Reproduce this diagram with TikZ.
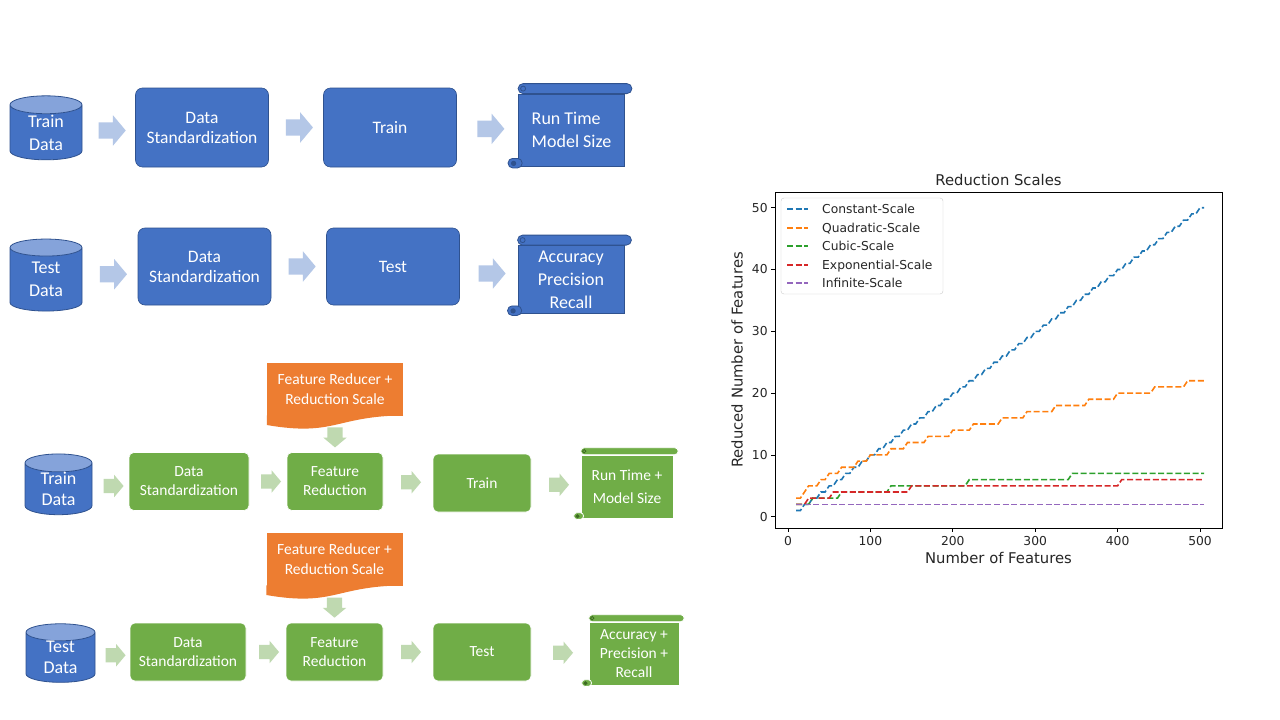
\documentclass[tikz,border=0pt]{standalone}
\usepackage{fontspec}
\setmainfont{Carlito}
\newfontfamily\plotfont{DejaVu Sans}
\usetikzlibrary{shapes.geometric,shapes.arrows}
\definecolor{officeblue}{HTML}{4472C4}
\definecolor{blueline}{HTML}{2F528F}
\definecolor{cyltop}{HTML}{85A3DA}
\definecolor{bluearrow}{HTML}{B4C7E7}
\definecolor{officegreen}{HTML}{70AD47}
\definecolor{greencurl}{HTML}{3D6B22}
\definecolor{greenarrow}{HTML}{BFD9B0}
\definecolor{officeorange}{HTML}{ED7D31}
\definecolor{plottext}{HTML}{262626}
\definecolor{mplblue}{HTML}{1F77B4}
\definecolor{mplorange}{HTML}{FF7F0E}
\definecolor{mplgreen}{HTML}{2CA02C}
\definecolor{mplred}{HTML}{D62728}
\definecolor{mplpurple}{HTML}{9467BD}
\begin{document}
\begin{tikzpicture}[x=1pt,y=-1pt,
    datacyl/.style={cylinder, shape border rotate=90, aspect=0.5, draw=blueline, line width=0.8pt,
      cylinder uses custom fill, cylinder body fill=officeblue, cylinder end fill=cyltop,
      text=white, align=center, inner sep=0pt, font=\fontsize{18}{23}\selectfont},
    bluebox/.style={rectangle, rounded corners=7pt, fill=officeblue, draw=blueline, line width=0.6pt,
      text=white, align=center, minimum width=133pt, minimum height=79pt, font=\fontsize{17.5}{20}\selectfont},
    bluescroll/.style={rectangle, fill=officeblue, draw=blueline, line width=0.8pt, text=white,
      align=center, minimum width=106pt, minimum height=72pt, font=\fontsize{18}{23}\selectfont},
    bluearr/.style={single arrow, fill=bluearrow, inner xsep=0pt, inner ysep=8pt, minimum height=27pt,
      single arrow head extend=7pt, single arrow tip angle=100},
    greenbox/.style={rectangle, rounded corners=5pt, fill=officegreen, draw=white, line width=0.6pt,
      text=white, align=center, minimum height=58pt, font=\fontsize{15.5}{19}\selectfont},
    greenscroll/.style={rectangle, fill=officegreen, draw=white, line width=0.6pt, text=white,
      align=center, minimum height=63pt, font=\fontsize{15.5}{23}\selectfont},
    greenarr/.style={single arrow, fill=greenarrow, inner xsep=0pt, inner ysep=7pt, minimum height=20pt,
      single arrow head extend=4pt, single arrow tip angle=100},
    downarr/.style={single arrow, fill=greenarrow, shape border rotate=270, inner xsep=7.5pt, inner ysep=0pt,
      minimum height=20pt, single arrow head extend=4pt, single arrow tip angle=100},
    reducer/.style={rectangle, fill=officeorange, text=white, align=center, minimum width=136pt,
      minimum height=53pt, font=\fontsize{15.5}{20}\selectfont},
    scaleline/.style={dash pattern=on 6pt off 2.6pt, line width=1.6pt},
    charttext/.style={text=plottext, inner sep=0pt, font=\plotfont\fontsize{12.3}{14}\selectfont},
    chartlabel/.style={text=plottext, inner sep=0pt, font=\plotfont\fontsize{14.8}{17}\selectfont}]

  \fill[white] (0,0) rectangle (1280,720);
  \useasboundingbox (0,0) rectangle (1280,720);

  % Training pipeline
  \node[datacyl, minimum width=72pt, minimum height=64pt] (traindata1) at (46,132.5) {Train\\Data};
  \node[bluebox] (stand1) at (202,127.5) {Data\\Standardization};
  \node[bluebox] (train1) at (390,127.5) {Train};
  \node[bluescroll, align=left] (runtime1) at (571.5,130) {Run Time\\Model Size};
  \path (traindata1) -- node[bluearr] (arr11) {} (stand1);
  \path (stand1) -- node[bluearr] (arr12) {} (train1);
  \path (train1) -- node[bluearr] (arr13) {} (runtime1);

  % Testing pipeline
  \node[datacyl, minimum width=72pt, minimum height=72pt] (testdata2) at (46,279.5) {Test\\Data};
  \node[bluebox, minimum height=77pt] (stand2) at (204.5,266.5) {Data\\Standardization};
  \node[bluebox, minimum height=77pt] (test2) at (393,266.5) {Test};
  \node[bluescroll, minimum height=68pt] (metrics2) at (571,279.5) {Accuracy\\Precision\\Recall};
  \path (testdata2) -- node[bluearr] (arr21) {} (stand2);
  \path (stand2) -- node[bluearr] (arr22) {} (test2);
  \path (test2) -- node[bluearr] (arr23) {} (metrics2);

  % Training with feature reduction
  \node[reducer] (reducer3) at (335,389.5) {Feature Reducer +\\Reduction Scale};
  \node[datacyl, minimum width=67pt, minimum height=59pt, font=\fontsize{18}{21}\selectfont] (traindata3) at (58.5,489) {Train\\Data};
  \node[greenbox, minimum width=120pt] (stand3) at (189,481.5) {Data\\Standardization};
  \node[greenbox, minimum width=96pt] (reduce3) at (335,481.5) {Feature\\Reduction};
  \node[greenbox, minimum width=98pt] (train3) at (482,483) {Train};
  \node[greenscroll, minimum width=92pt] (runtime3) at (627,486.5) {Run Time +\\Model Size};
  \path (traindata3) -- node[greenarr] (arr31) {} (stand3);
  \path (stand3) -- node[greenarr] (arr32) {} (reduce3);
  \path (reduce3) -- node[greenarr] (arr33) {} (train3);
  \path (train3) -- node[greenarr] (arr34) {} (runtime3);
  \path (reducer3) -- node[downarr] (arr35) {} (reduce3);

  % Testing with feature reduction
  \node[reducer] (reducer4) at (334.5,559.5) {Feature Reducer +\\Reduction Scale};
  \node[datacyl, minimum width=69pt, minimum height=57pt, font=\fontsize{18}{21}\selectfont] (testdata4) at (60.5,657.5) {Test\\Data};
  \node[greenbox, minimum width=116pt] (stand4) at (188,652) {Data\\Standardization};
  \node[greenbox, minimum width=97pt] (reduce4) at (334.5,652) {Feature\\Reduction};
  \node[greenbox, minimum width=98pt] (test4) at (482,652) {Test};
  \node[greenscroll, minimum width=90pt, font=\fontsize{15.5}{19}\selectfont] (metrics4) at (634,653.5) {Accuracy +\\Precision +\\Recall};
  \path (testdata4) -- node[greenarr] (arr41) {} (stand4);
  \path (stand4) -- node[greenarr] (arr42) {} (reduce4);
  \path (reduce4) -- node[greenarr] (arr43) {} (test4);
  \path (test4) -- node[greenarr] (arr44) {} (metrics4);
  \path (reducer4) -- node[downarr] (arr45) {} (reduce4);

  % Wavy bottoms of the reducer documents
  \foreach \d in {reducer3,reducer4}
    \fill[officeorange] ([yshift=0.8pt]\d.south east) .. controls (\d.south) and ([yshift=-20.5pt]\d.south) .. ([yshift=-8.8pt]\d.south west) -- ([yshift=0.8pt]\d.south west) -- cycle;

  % Scroll rolls
  \foreach \s/\r/\fc/\dc/\cc in {runtime1/10/officeblue/blueline/blueline, metrics2/10/officeblue/blueline/blueline,
      runtime3/7/officegreen/white/greencurl, metrics4/7/officegreen/white/greencurl} {
    \draw[fill=\fc, draw=\dc, line width=0.8pt, rounded corners=\r*0.5pt]
      ([yshift=\r*1pt]\s.north west) rectangle ([xshift=\r*0.7pt]\s.north east);
    \draw[draw=\cc, line width=0.8pt] ([xshift=\r*0.5pt, yshift=\r*0.5pt]\s.north west) circle (\r*0.25pt);
    \draw[fill=\fc, draw=\dc, line width=0.8pt, rounded corners=\r*0.45pt]
      ([xshift=-\r*1pt, yshift=-\r*0.15pt]\s.south west) rectangle ([xshift=\r*0.4pt, yshift=\r*0.8pt]\s.south west);
    \draw[draw=\cc, fill=\cc, line width=0.8pt] ([xshift=-\r*0.45pt, yshift=\r*0.3pt]\s.south west) circle (\r*0.22pt);
  }

  % Reduction scales plot
  \begin{scope}[shift={(788,516.7)}, x=0.824pt, y=6.18pt]
    \draw[mplblue, scaleline] plot[samples at={10,15,...,505}] (\x, {floor(\x/10+0.001)});
    \draw[mplorange, scaleline] plot[samples at={10,15,...,505}] (\x, {floor(sqrt(\x)+0.001)});
    \draw[mplgreen, scaleline] plot[samples at={10,15,...,505}] (\x, {floor(\x^(1/3)+0.003)});
    \draw[mplred, scaleline] plot[samples at={10,15,...,505}] (\x, {floor(ln(\x))});
    \draw[mplpurple, scaleline] (10,2) -- (505,2);
    \draw[line width=0.8pt] (-15.8,-1.83) rectangle (526.7,52.54);
    \foreach \n in {0,100,...,500}
      \draw[line width=0.8pt] (\n,-1.83) -- ++(0,-4pt) node[charttext, below=3.5pt] (xtick\n) {\n};
    \foreach \n in {0,10,...,50}
      \draw[line width=0.8pt] (-15.8,\n) -- ++(-4pt,0) node[charttext, left=3pt] (ytick\n) {\n};
  \end{scope}
  \node[chartlabel] (charttitle) at (998.5,180) {Reduction Scales};
  \node[chartlabel] (xaxislabel) at (998.5,558) {Number of Features};
  \node[chartlabel, rotate=90] (yaxislabel) at (737,360) {Reduced Number of Features};

  % Legend
  \draw[rounded corners=3pt, draw=black!20, fill=white] (781,198) rectangle (943,294);
  \foreach \i/\ly/\lab/\col in {0/209/Constant-Scale/mplblue, 1/228/Quadratic-Scale/mplorange, 2/246/Cubic-Scale/mplgreen,
      3/265/Exponential-Scale/mplred, 4/283/Infinite-Scale/mplpurple} {
    \draw[\col, scaleline] (787,\ly) -- (808,\ly);
    \node[charttext, anchor=base west] (legend\i) at (822,{\ly+4.5}) {\lab};
  }
\end{tikzpicture}
\end{document}
